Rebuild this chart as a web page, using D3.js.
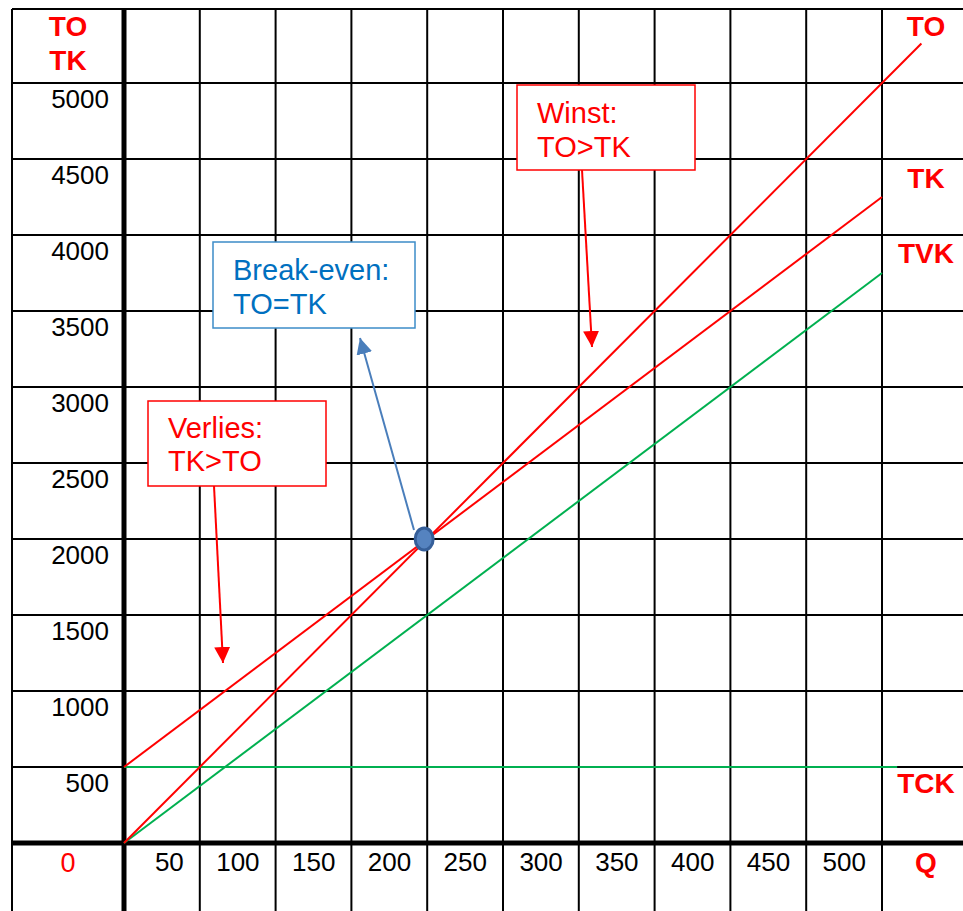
<!DOCTYPE html>
<html>
<head>
<meta charset="utf-8">
<script src="https://cdn.jsdelivr.net/npm/d3@7"></script>
<style>
	body { margin: 0; background: #fff; }
	svg { display: block; font-family: "Liberation Sans", Arial, sans-serif; }
</style>
</head>
<body>
<div id="chart"></div>
<script>
	// values
	var qTicks = [0, 50, 100, 150, 200, 250, 300, 350, 400, 450, 500];
	var yTicks = [0, 500, 1000, 1500, 2000, 2500, 3000, 3500, 4000, 4500, 5000];
	var qLabels = [50, 100, 150, 200, 250, 300, 350, 400, 450, 500];
	var yLabels = [500, 1000, 1500, 2000, 2500, 3000, 3500, 4000, 4500, 5000];

	var toLine = [{q: 0, v: 0}, {q: 526, v: 5260}];      // TO = 10 * Q
	var tkLine = [{q: 0, v: 500}, {q: 500, v: 4250}];    // TK = 500 + 7.5 * Q
	var tvkLine = [{q: 0, v: 0}, {q: 500, v: 3750}];     // TVK = 7.5 * Q
	var tckLine = [{q: 0, v: 500}, {q: 510, v: 500}];    // TCK = 500
	var breakEven = {q: 198, v: 2000};

	var width = 963, height = 911;
	var red = "#ff0000", green = "#00b050";

	var x = d3.scaleLinear().domain([0, 500]).range([124, 882]);
	var y = d3.scaleLinear().domain([0, 5000]).range([843, 83]);

	var svg = d3.select("#chart").append("svg")
		.attr("width", width)
		.attr("height", height);

	svg.append("rect")
		.attr("width", width)
		.attr("height", height)
		.attr("fill", "#fff");

	var defs = svg.append("defs");
	function addArrow(id, color) {
		defs.append("marker")
			.attr("id", id)
			.attr("markerUnits", "userSpaceOnUse")
			.attr("markerWidth", 18)
			.attr("markerHeight", 18)
			.attr("refX", 16)
			.attr("refY", 8)
			.attr("orient", "auto")
			.append("path")
			.attr("d", "M0,0 L16,8 L0,16 z")
			.attr("fill", color);
	}
	addArrow("arrowRed", red);
	addArrow("arrowBlue", "#4a7ebb");

	// table grid
	var grid = svg.append("g").attr("stroke", "#000");

	grid.selectAll("line.h")
		.data(yTicks.slice(1))
		.enter()
		.append("line")
		.attr("x1", 12).attr("x2", width)
		.attr("y1", function(d) { return y(d); })
		.attr("y2", function(d) { return y(d); })
		.attr("stroke-width", 2);

	grid.selectAll("line.v")
		.data(qTicks.slice(1))
		.enter()
		.append("line")
		.attr("x1", function(d) { return x(d); })
		.attr("x2", function(d) { return x(d); })
		.attr("y1", 9).attr("y2", height)
		.attr("stroke-width", 2);

	// outer top + left border
	grid.append("line").attr("x1", 12).attr("x2", width).attr("y1", 9).attr("y2", 9).attr("stroke-width", 2);
	grid.append("line").attr("x1", 12).attr("x2", 12).attr("y1", 9).attr("y2", height).attr("stroke-width", 2);

	// thick axes
	grid.append("line").attr("x1", 12).attr("x2", width).attr("y1", y(0)).attr("y2", y(0)).attr("stroke-width", 5);
	grid.append("line").attr("x1", x(0)).attr("x2", x(0)).attr("y1", 9).attr("y2", height).attr("stroke-width", 5);

	// tick labels sit in the cells
	svg.append("g").selectAll("text")
		.data(yLabels)
		.enter()
		.append("text")
		.attr("x", 109)
		.attr("y", function(d) { return y(d) + 25; })
		.attr("text-anchor", "end")
		.attr("font-size", 26)
		.attr("fill", "#000")
		.text(function(d) { return d; });

	svg.append("g").selectAll("text")
		.data(qLabels)
		.enter()
		.append("text")
		.attr("x", function(d) { return x(d) - 16; })
		.attr("y", 871)
		.attr("text-anchor", "end")
		.attr("font-size", 26)
		.attr("fill", "#000")
		.text(function(d) { return d; });

	svg.append("text")
		.attr("x", 68).attr("y", 872)
		.attr("text-anchor", "middle")
		.attr("font-size", 27)
		.attr("fill", red)
		.text("0");

	// axis titles / line names
	var names = [
		{t: "TO", x: 68, y: 36},
		{t: "TK", x: 68, y: 70},
		{t: "TO", x: 926, y: 36},
		{t: "TK", x: 926, y: 188},
		{t: "TVK", x: 926, y: 263},
		{t: "TCK", x: 926, y: 793},
		{t: "Q", x: 926, y: 872}
	];
	svg.append("g").selectAll("text")
		.data(names)
		.enter()
		.append("text")
		.attr("x", function(d) { return d.x; })
		.attr("y", function(d) { return d.y; })
		.attr("text-anchor", "middle")
		.attr("font-size", 28)
		.attr("font-weight", "bold")
		.attr("fill", red)
		.text(function(d) { return d.t; });

	// cost / revenue lines
	var line = d3.line()
		.x(function(d) { return x(d.q); })
		.y(function(d) { return y(d.v); });

	var series = [
		{data: tckLine, color: green},
		{data: tvkLine, color: green},
		{data: tkLine, color: red},
		{data: toLine, color: red}
	];
	svg.append("g").selectAll("path")
		.data(series)
		.enter()
		.append("path")
		.attr("d", function(d) { return line(d.data); })
		.attr("fill", "none")
		.attr("stroke", function(d) { return d.color; })
		.attr("stroke-width", 2);

	// callout boxes
	var boxes = [
		{x: 213, y: 242, w: 202, h: 86, stroke: "#3d8cc8", color: "#0070c0", lines: ["Break-even:", "TO=TK"], tx: 233, ty: [280, 314]},
		{x: 148, y: 401, w: 178, h: 85, stroke: red, color: red, lines: ["Verlies:", "TK>TO"], tx: 168, ty: [438, 471]},
		{x: 517, y: 85, w: 178, h: 85, stroke: red, color: red, lines: ["Winst:", "TO>TK"], tx: 537, ty: [123, 157]}
	];
	var box = svg.append("g").selectAll("g")
		.data(boxes)
		.enter()
		.append("g");

	box.append("rect")
		.attr("x", function(d) { return d.x; })
		.attr("y", function(d) { return d.y; })
		.attr("width", function(d) { return d.w; })
		.attr("height", function(d) { return d.h; })
		.attr("fill", "#fff")
		.attr("stroke", function(d) { return d.stroke; })
		.attr("stroke-width", 1.5);

	box.each(function(d) {
		var g = d3.select(this);
		for (var i = 0; i < d.lines.length; i++) {
			g.append("text")
				.attr("x", d.tx)
				.attr("y", d.ty[i])
				.attr("font-size", 29)
				.attr("fill", d.color)
				.text(d.lines[i]);
		}
	});

	// arrows
	var arrows = [
		{x1: 214, y1: 486, x2: 223, y2: 663, color: red, marker: "arrowRed"},
		{x1: 582, y1: 170, x2: 592, y2: 347, color: red, marker: "arrowRed"},
		{x1: 414, y1: 530, x2: 360, y2: 338, color: "#4a7ebb", marker: "arrowBlue"}
	];
	svg.append("g").selectAll("line")
		.data(arrows)
		.enter()
		.append("line")
		.attr("x1", function(d) { return d.x1; })
		.attr("y1", function(d) { return d.y1; })
		.attr("x2", function(d) { return d.x2; })
		.attr("y2", function(d) { return d.y2; })
		.attr("stroke", function(d) { return d.color; })
		.attr("stroke-width", 2)
		.attr("marker-end", function(d) { return "url(#" + d.marker + ")"; });

	// break-even point
	svg.append("ellipse")
		.attr("cx", x(breakEven.q))
		.attr("cy", y(breakEven.v))
		.attr("rx", 9)
		.attr("ry", 11)
		.attr("fill", "#5583c0")
		.attr("stroke", "#365f99")
		.attr("stroke-width", 3);
</script>
</body>
</html>
